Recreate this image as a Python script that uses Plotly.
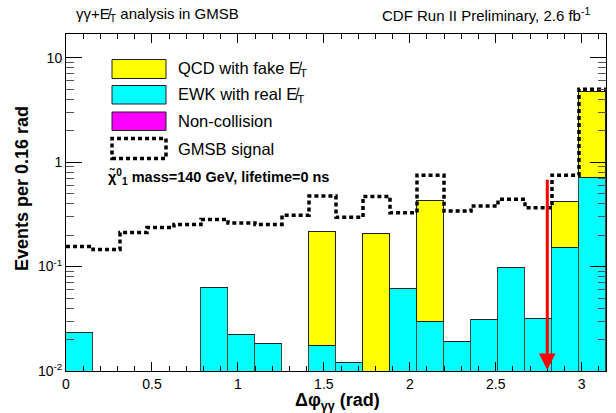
import numpy as np
import plotly.graph_objects as go

# ---- data ----
n_bins = 20
x_lo, x_hi = 0.0, np.pi
ewk = [0.023, 0, 0, 0, 0, 0.063, 0.022, 0.018, 0, 0.0174,
       0.012, 0, 0.061, 0.0294, 0.019, 0.031, 0.097, 0.0316, 0.15, 0.71]
qcd = [0, 0, 0, 0, 0, 0, 0, 0, 0, 0.197,
       0, 0.204, 0, 0.396, 0, 0, 0, 0, 0.265, 3.97]
noncoll = [0] * 20
signal = [0.156, 0.146, 0.212, 0.237, 0.253, 0.283, 0.261, 0.253, 0.31, 0.474,
          0.297, 0.47, 0.328, 0.75, 0.34, 0.38, 0.44, 0.366, 0.75, 5.0]
cut_value = 2.8
cut_arrow_top = 0.70
x_tickvals = [0, 0.5, 1, 1.5, 2, 2.5, 3]
x_ticktext = ["0", "0.5", "1", "1.5", "2", "2.5", "3"]
y_tickvals = [0.01, 0.1, 1, 10]
y_ticktext = ["10<sup>-2</sup>", "10<sup>-1</sup>", "1", "10"]
y_minor_vals = [m * 10.0 ** k for k in (-2, -1, 0, 1) for m in range(2, 10)]

edges = np.linspace(x_lo, x_hi, n_bins + 1)
centers = 0.5 * (edges[:-1] + edges[1:])
bw = edges[1] - edges[0]

FONT = "Liberation Sans, Arial, Helvetica, sans-serif"
METT = "E\u0338<sub>T</sub>"

fig = go.Figure()
fig.add_bar(x=centers, y=noncoll, width=bw, marker=dict(color="#ff00ff", line=dict(width=0)),
            name="Non-collision", showlegend=False)
fig.add_bar(x=centers, y=ewk, width=bw, marker=dict(color="#00ffff", line=dict(color="#444", width=1)),
            name="EWK", showlegend=False)
fig.add_bar(x=centers, y=qcd, width=bw, marker=dict(color="#ffff00", line=dict(color="#222", width=1)),
            name="QCD", showlegend=False)
fig.add_scatter(x=list(edges), y=signal + [signal[-1]], mode="lines",
                line=dict(color="black", width=3.5, dash="4px,3px", shape="hv"),
                showlegend=False, name="GMSB")

# cut arrow
fig.add_annotation(x=cut_value, y=np.log10(0.0102), ax=cut_value, ay=np.log10(cut_arrow_top),
                   xref="x", yref="y", axref="x", ayref="y", text="", showarrow=True,
                   arrowhead=2, arrowsize=1.1, arrowwidth=3, arrowcolor="#ff0000")

# Legend (manual)
def px2x(px):
    return (px - 66) / 540.0

def py2y(py):
    return (371 - py) / 337.0

boxes = [
    ("#ffff00", 59.5, 78.5, "solid", "QCD with fake " + METT),
    ("#00ffff", 85.5, 104, "solid", "EWK with real " + METT),
    ("#ff00ff", 112, 130.5, "solid", "Non-collision"),
    (None, 138.5, 158.5, "dot", "GMSB signal"),
]
for col, y0, y1, st, label in boxes:
    if col:
        fig.add_shape(type="rect", xref="paper", yref="paper",
                      x0=px2x(112), x1=px2x(166), y0=py2y(y1), y1=py2y(y0),
                      fillcolor=col, line=dict(color="#222", width=1))
    else:
        fig.add_shape(type="rect", xref="paper", yref="paper",
                      x0=px2x(112), x1=px2x(166), y0=py2y(y1), y1=py2y(y0),
                      fillcolor="rgba(0,0,0,0)", line=dict(color="black", width=3.5, dash="4px,3px"))
    fig.add_annotation(xref="paper", yref="paper", x=px2x(176), y=py2y((y0 + y1) / 2),
                       text=label, showarrow=False, xanchor="left", yanchor="middle",
                       font=dict(family=FONT, size=16.5, color="black"))
fig.add_annotation(xref="paper", yref="paper", x=px2x(106), y=py2y(177),
                   text="<b>\u03c7\u0303<sup>0</sup><sub>1</sub> mass=140 GeV, lifetime=0 ns</b>",
                   showarrow=False, xanchor="left", yanchor="middle",
                   font=dict(family=FONT, size=14.5, color="black"))

# Titles
fig.add_annotation(xref="paper", yref="paper", x=px2x(74), y=py2y(15),
                   text="\u03b3\u03b3+" + METT + " analysis in GMSB", showarrow=False,
                   xanchor="left", yanchor="middle", font=dict(family=FONT, size=15, color="black"))
fig.add_annotation(xref="paper", yref="paper", x=px2x(592), y=py2y(15),
                   text="CDF Run II Preliminary, 2.6 fb<sup>-1</sup>", showarrow=False,
                   xanchor="right", yanchor="middle", font=dict(family=FONT, size=15, color="black"))
fig.add_annotation(xref="paper", yref="paper", x=px2x(382), y=py2y(401),
                   text="<b>\u0394\u03c6<sub>\u03b3\u03b3</sub> (rad)</b>", showarrow=False,
                   xanchor="right", yanchor="middle", font=dict(family=FONT, size=18, color="black"))
fig.add_annotation(xref="paper", yref="paper", x=px2x(22), y=py2y(189),
                   text="<b>Events per 0.16 rad</b>", showarrow=False, textangle=-90,
                   xanchor="center", yanchor="middle", font=dict(family=FONT, size=18, color="black"))

fig.update_layout(
    width=616, height=413,
    margin=dict(l=66, r=10, t=34, b=42),
    barmode="stack", bargap=0,
    plot_bgcolor="white", paper_bgcolor="white",
    font=dict(family=FONT, color="black"),
    showlegend=False,
)
fig.update_xaxes(range=[x_lo, x_hi], tickvals=x_tickvals, ticktext=x_ticktext,
                 ticks="inside", ticklen=9, tickcolor="black", showgrid=False, zeroline=False,
                 showline=True, linecolor="black", linewidth=1, mirror="allticks",
                 tickfont=dict(family=FONT, size=14, color="black"),
                 minor=dict(dtick=0.1, ticks="inside", ticklen=5, tickcolor="black", showgrid=False))
fig.update_yaxes(type="log", range=[-2, 1.227], tickvals=y_tickvals, ticktext=y_ticktext,
                 ticks="inside", ticklen=16, tickcolor="black", showgrid=False, zeroline=False,
                 showline=True, linecolor="black", linewidth=1, mirror="allticks",
                 tickfont=dict(family=FONT, size=14, color="black"),
                 minor=dict(tickvals=y_minor_vals, ticks="inside", ticklen=8, tickcolor="#555",
                            showgrid=False))
fig.update_xaxes(tickprefix="<b>", ticksuffix="</b>")
fig.update_yaxes(tickprefix="<b>", ticksuffix="</b>")

fig.write_html("out.html")
